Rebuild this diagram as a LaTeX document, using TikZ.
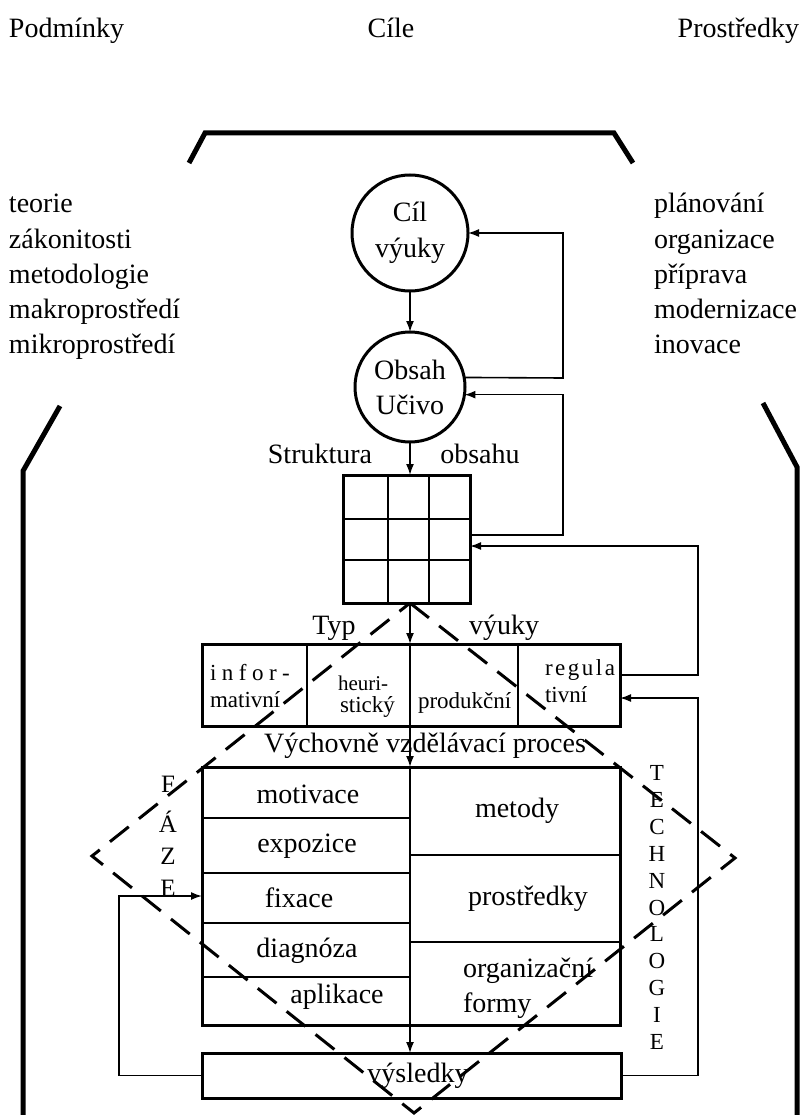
\documentclass[tikz,border=0pt]{standalone}
\usepackage{fontspec}
\setmainfont{Liberation Serif}
\usetikzlibrary{arrows.meta}
\begin{document}
\begin{tikzpicture}[x=1pt,y=-1pt,
  every node/.style={font=\fontsize{28}{35}\selectfont, inner sep=0pt, outer sep=0pt},
  thickbr/.style={line width=5pt, line join=miter},
  boxline/.style={draw, line width=3pt},
  divline/.style={line width=2pt},
  thinline/.style={line width=1.6pt},
  arr/.style={-{Latex[length=11pt,width=8pt]}, line width=1.6pt},
  circ/.style={draw, circle, line width=3pt, align=center},
  cell/.style={font=\fontsize{23}{27}\selectfont},
  fletter/.style={font=\fontsize{25}{25}\selectfont, anchor=base},
  tletter/.style={font=\fontsize{23}{23}\selectfont, anchor=base},
  dashd/.style={line width=3pt, dash pattern=on 24pt off 13pt},
]
\useasboundingbox (0,0) rectangle (803,1115);

% headings
\node[anchor=base west] (podm) at (9,38) {Podmínky};
\node[anchor=base] (cile) at (391,38) {Cíle};
\node[anchor=base east] (prost) at (799,38) {Prostředky};

% brackets
\draw[thickbr] (189,163) -- (205,133) -- (614,133) -- (633,163);
\draw[thickbr] (60,406) -- (23,471) -- (23,1115);
\draw[thickbr] (763,403) -- (797,467) -- (797,1115);

% lists
\foreach \t [count=\i] in {teorie,zákonitosti,metodologie,makroprostředí,mikroprostředí}
  \node[anchor=base west] (L\i) at (9,178+35*\i) {\t};
\foreach \t [count=\i] in {plánování,organizace,příprava,modernizace,inovace}
  \node[anchor=base west] (R\i) at (654,178+35*\i) {\t};

% circles
\node[circ, minimum size=116pt] (cil) at (410,233) {Cíl\\[1pt]výuky};
\node[circ, minimum size=110pt] (obsah) at (410,387) {Obsah\\Učivo};
\draw[arr] (cil) -- (obsah);

% structure of content
\node[anchor=base] (strukt) at (320,463) {Struktura};
\node[anchor=base] (obsahu) at (480,463) {obsahu};
\node[boxline, minimum width=127pt, minimum height=128pt] (grid) at (406.5,539) {};
\draw[divline] (388,475) -- (388,603) (429,475) -- (429,603)
               (343,519) -- (470,519) (343,560) -- (470,560);
\draw[arr] (obsah.south) -- (grid.north -| obsah.south);

% type of teaching
\node[anchor=base] (typl) at (334,634) {Typ};
\node[anchor=base] (vyukyl) at (504,634) {výuky};
\node[boxline, minimum width=418pt, minimum height=82pt] (typ) at (411,685) {};
\draw[divline] (307,644) -- (307,726) (518,644) -- (518,726);
\node[cell, anchor=base west] (inf1) at (210,680) {i\hspace{5.5pt}n\hspace{5.5pt}f\hspace{5.5pt}o\hspace{5.5pt}r\hspace{5.5pt}-};
\node[cell, anchor=base west] (inf2) at (210,707) {mativní};
\node[cell, anchor=base west, font=\fontsize{21}{25}\selectfont] (heu1) at (338,690) {heuri-};
\node[cell, anchor=base west] (heu2) at (340,712) {stický};
\node[cell, anchor=base west] (prod) at (418,708) {produkční};
\node[cell, anchor=base west] (reg1) at (545,675) {r\hspace{2.5pt}e\hspace{2.5pt}g\hspace{2.5pt}u\hspace{2.5pt}l\hspace{2.5pt}a};
\node[cell, anchor=base west] (reg2) at (545,702) {tivní};

% process
\node[anchor=base] (vvp) at (425,752) {Výchovně vzdělávací proces};
\node[boxline, minimum width=418pt, minimum height=258pt] (proc) at (411,896) {};
\draw[divline] (202,818) -- (410,818) (202,873) -- (410,873)
               (202,923) -- (410,923) (202,977) -- (410,977)
               (410,855) -- (620,855) (410,942) -- (620,942);
\node[anchor=base] (mot) at (308,803) {motivace};
\node[anchor=base] (exp) at (307,852) {expozice};
\node[anchor=base] (fix) at (299,907) {fixace};
\node[anchor=base] (dia) at (307,957) {diagnóza};
\node[anchor=base] (apl) at (337,1003) {aplikace};
\node[anchor=base] (met) at (517,817) {metody};
\node[anchor=base] (pro) at (528,905) {prostředky};
\node[anchor=base west] (org1) at (463,977) {organizační};
\node[anchor=base west] (org2) at (463,1012) {formy};

% results
\node[boxline, minimum width=419pt, minimum height=45pt] (vys) at (411.5,1075.5) {};
\node[anchor=base] (vyst) at (418,1082) {výsledky};

% central flow line
\draw[arr] (grid.south -| obsah) -- (typ.north -| obsah);
\draw[divline] (typ.north -| obsah) -- (typ.south -| obsah);
\draw[arr] (typ.south -| obsah) -- (proc.north -| obsah);
\draw[line width=2.5pt] (proc.north -| obsah) -- (proc.south -| obsah);
\draw[arr] (proc.south -| obsah) -- (vys.north -| obsah);

% feedback loops
\coordinate (c1) at (563,378);
\coordinate (c2) at (563,535);
\coordinate (c3) at (698,675);
\coordinate (c4) at (698,1075.5);
\coordinate (c5) at (119,1075.5);
\draw[arr] (obsah.10) -- (c1) |- (cil.east);
\draw[arr] (grid.east |- c2) -- (c2) |- (obsah.-8);
\draw[arr] (typ.east |- c3) -- (c3) |- ([yshift=-7pt]grid.east);
\draw[arr] (vys.east) -- (c4) |- ([yshift=-13pt]typ.east);
\draw[arr] (vys.west) -- (c5) |- (proc.west);

% letters
\foreach \l/\y [count=\i] in {F/792,Á/832,Z/864,E/896}
  \node[fletter] (F\i) at (168,\y) {\l};
\foreach \l [count=\i] in {T,E,C,H,N,O,L,O,G,I,E}
  \node[tletter] (T\i) at (657,780.5+26.9*\i-26.9) {\l};

% dashed diamond
\coordinate (dT) at (410,603);
\coordinate (dR) at (735,858);
\coordinate (dB) at (414,1113);
\coordinate (dL) at (92,856);
\draw[dashd] (dT) -- (dR) -- (dB) -- (dL) -- cycle;
\end{tikzpicture}
\end{document}
